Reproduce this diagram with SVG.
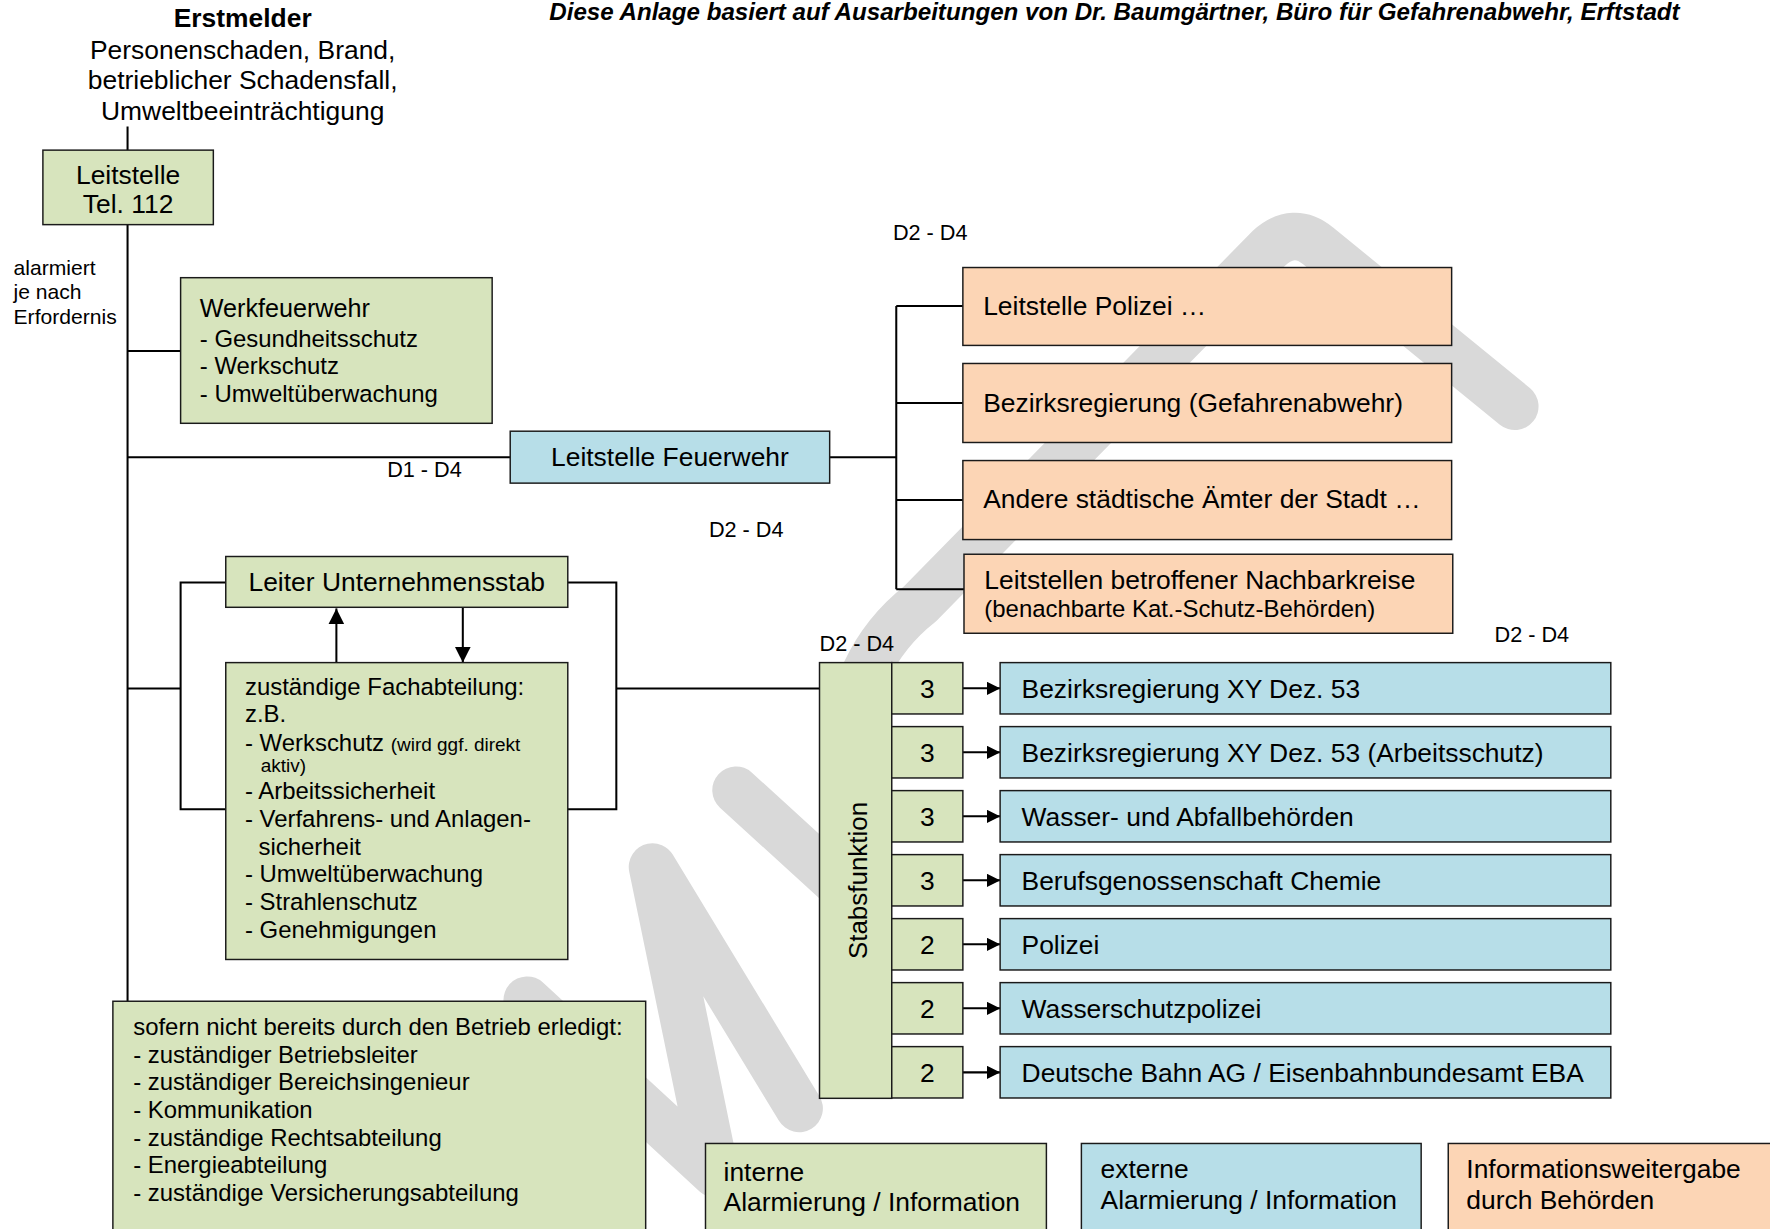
<svg xmlns="http://www.w3.org/2000/svg" width="1770" height="1229" viewBox="0 0 1770 1229">
<style>
text{font-family:"Liberation Sans",Arial,sans-serif;fill:#000}
.t{font-size:23.4px}
.m{font-size:21.2px}
.s{font-size:18.7px}
.d{font-size:19.2px}
.x{font-size:16.8px}
.b{font-weight:bold}
.c{text-anchor:middle}
.g{fill:#d7e4bd;stroke:#1a1a1a;stroke-width:1.3}
.bl{fill:#b7dee8;stroke:#1a1a1a;stroke-width:1.3}
.o{fill:#fcd5b5;stroke:#1a1a1a;stroke-width:1.3}
.ln{fill:none;stroke:#000;stroke-width:1.8}
.wm{fill:none;stroke:#d9d9d9;stroke-width:42;stroke-linecap:round;stroke-linejoin:round}
</style>
<defs>
<marker id="ah" viewBox="0 0 12 12" refX="12" refY="6" markerWidth="12" markerHeight="12" orient="auto" markerUnits="userSpaceOnUse"><path d="M0,0 L12,6 L0,12 z" fill="#000"/></marker>
<marker id="ah2" viewBox="0 0 14 14" refX="14" refY="7" markerWidth="14" markerHeight="14" orient="auto" markerUnits="userSpaceOnUse"><path d="M0,0 L14,7 L0,14 z" fill="#000"/></marker>
</defs>
<rect width="1770" height="1229" fill="#fff"/>
<g transform="scale(1.1288)">
<g id="watermark">
<path class="wm" d="M1342,360 L1168,218 Q1146,200 1124,220 L815,535 Q745,590 748,700"/>
<path class="wm" d="M652,700 L745,785"/>
<path class="wm" d="M467,886 L634,1040 L578,768 L708,982"/>
</g>
<g id="connectors">
<path class="ln" d="M113,112 V133 M113,199 V887 M113,311 H160 M113,405 H452 M113,610 H160"/>
<path class="ln" d="M735,405 H794 M794,271 V522 M794,271 H853 M794,357 H853 M794,443 H853 M794,522 H854"/>
<path class="ln" d="M200,516 H160 V717 H200 M503,516 H546 V717 H503 M546,610 H726"/>
<line class="ln" x1="298" y1="587" x2="298" y2="539" marker-end="url(#ah2)"/>
<line class="ln" x1="410" y1="538" x2="410" y2="587" marker-end="url(#ah2)"/>
<line class="ln" x1="853" y1="609.8" x2="886" y2="609.8" marker-end="url(#ah)"/>
<line class="ln" x1="853" y1="666.5" x2="886" y2="666.5" marker-end="url(#ah)"/>
<line class="ln" x1="853" y1="723.2" x2="886" y2="723.2" marker-end="url(#ah)"/>
<line class="ln" x1="853" y1="779.9" x2="886" y2="779.9" marker-end="url(#ah)"/>
<line class="ln" x1="853" y1="836.6" x2="886" y2="836.6" marker-end="url(#ah)"/>
<line class="ln" x1="853" y1="893.3" x2="886" y2="893.3" marker-end="url(#ah)"/>
<line class="ln" x1="853" y1="950" x2="886" y2="950" marker-end="url(#ah)"/>
</g>
<g id="header">
<text class="t b c" x="215" y="24">Erstmelder</text>
<text class="t c" x="215" y="52">Personenschaden, Brand,</text>
<text class="t c" x="215" y="79">betrieblicher Schadensfall,</text>
<text class="t c" x="215" y="106">Umweltbeeinträchtigung</text>
<text class="b" x="1488" y="18" font-size="21.4" font-style="italic" text-anchor="end">Diese Anlage basiert auf Ausarbeitungen von Dr. Baumgärtner, Büro für Gefahrenabwehr, Erftstadt</text>
</g>
<g id="labels">
<text class="s" x="12" y="244">alarmiert</text>
<text class="s" x="12" y="265">je nach</text>
<text class="s" x="12" y="287">Erfordernis</text>
<text class="d" x="343" y="423">D1 - D4</text>
<text class="d" x="791" y="213">D2 - D4</text>
<text class="d" x="628" y="476">D2 - D4</text>
<text class="d" x="726" y="577">D2 - D4</text>
<text class="d" x="1324" y="569">D2 - D4</text>
</g>
<g id="leitstelle112">
<rect class="g" x="38" y="133" width="151" height="66"/>
<text class="t c" x="113.5" y="163">Leitstelle</text>
<text class="t c" x="113.5" y="189">Tel. 112</text>
</g>
<g id="werkfeuerwehr">
<rect class="g" x="160" y="246" width="276" height="129"/>
<text x="177" y="281" font-size="22.3">Werkfeuerwehr</text>
<text class="m" x="177" y="307">- Gesundheitsschutz</text>
<text class="m" x="177" y="331">- Werkschutz</text>
<text class="m" x="177" y="356">- Umweltüberwachung</text>
</g>
<g id="leitstelleFeuerwehr">
<rect class="bl" x="452" y="382" width="283" height="46"/>
<text class="t c" x="593.5" y="413">Leitstelle Feuerwehr</text>
</g>
<g id="orange1"><rect class="o" x="853" y="237" width="433" height="69"/><text class="t" x="871" y="279">Leitstelle Polizei …</text></g>
<g id="orange2"><rect class="o" x="853" y="322" width="433" height="70"/><text class="t" x="871" y="365">Bezirksregierung (Gefahrenabwehr)</text></g>
<g id="orange3"><rect class="o" x="853" y="408" width="433" height="70"/><text class="t" x="871" y="450">Andere städtische Ämter der Stadt …</text></g>
<g id="orange4"><rect class="o" x="854" y="491" width="433" height="70"/><text class="t" x="872" y="522">Leitstellen betroffener Nachbarkreise</text><text class="m" x="872" y="547">(benachbarte Kat.-Schutz-Behörden)</text></g>
<g id="leiter">
<rect class="g" x="200" y="493" width="303" height="45"/>
<text class="t c" x="351.5" y="524">Leiter Unternehmensstab</text>
</g>
<g id="fachabteilung">
<rect class="g" x="200" y="587" width="303" height="263"/>
<text class="m" x="217" y="616">zuständige Fachabteilung:</text>
<text class="m" x="217" y="640">z.B.</text>
<text class="m" x="217" y="665">- Werkschutz <tspan class="x">(wird ggf. direkt</tspan></text>
<text class="x" x="231" y="684">aktiv)</text>
<text class="m" x="217" y="708">- Arbeitssicherheit</text>
<text class="m" x="217" y="733">- Verfahrens- und Anlagen-</text>
<text class="m" x="229" y="757">sicherheit</text>
<text class="m" x="217" y="781">- Umweltüberwachung</text>
<text class="m" x="217" y="806">- Strahlenschutz</text>
<text class="m" x="217" y="831">- Genehmigungen</text>
</g>
<g id="stabsfunktion">
<rect class="g" x="726" y="587" width="64" height="386"/>
<text class="c" font-size="23" transform="translate(768,780) rotate(-90)">Stabsfunktion</text>
</g>
<g id="row1"><rect class="g" x="790" y="587" width="63" height="45.5"/><text class="t c" x="821.5" y="618">3</text><rect class="bl" x="886" y="587" width="541" height="45.5"/><text class="t" x="905" y="618">Bezirksregierung XY Dez. 53</text></g>
<g id="row2"><rect class="g" x="790" y="643.7" width="63" height="45.5"/><text class="t c" x="821.5" y="674.7">3</text><rect class="bl" x="886" y="643.7" width="541" height="45.5"/><text class="t" x="905" y="674.7">Bezirksregierung XY Dez. 53 (Arbeitsschutz)</text></g>
<g id="row3"><rect class="g" x="790" y="700.4" width="63" height="45.5"/><text class="t c" x="821.5" y="731.4">3</text><rect class="bl" x="886" y="700.4" width="541" height="45.5"/><text class="t" x="905" y="731.4">Wasser- und Abfallbehörden</text></g>
<g id="row4"><rect class="g" x="790" y="757.1" width="63" height="45.5"/><text class="t c" x="821.5" y="788.1">3</text><rect class="bl" x="886" y="757.1" width="541" height="45.5"/><text class="t" x="905" y="788.1">Berufsgenossenschaft Chemie</text></g>
<g id="row5"><rect class="g" x="790" y="813.8" width="63" height="45.5"/><text class="t c" x="821.5" y="844.8">2</text><rect class="bl" x="886" y="813.8" width="541" height="45.5"/><text class="t" x="905" y="844.8">Polizei</text></g>
<g id="row6"><rect class="g" x="790" y="870.5" width="63" height="45.5"/><text class="t c" x="821.5" y="901.5">2</text><rect class="bl" x="886" y="870.5" width="541" height="45.5"/><text class="t" x="905" y="901.5">Wasserschutzpolizei</text></g>
<g id="row7"><rect class="g" x="790" y="927.2" width="63" height="45.5"/><text class="t c" x="821.5" y="958.2">2</text><rect class="bl" x="886" y="927.2" width="541" height="45.5"/><text class="t" x="905" y="958.2">Deutsche Bahn AG / Eisenbahnbundesamt EBA</text></g>
<g id="betrieb">
<rect class="g" x="100" y="887" width="472" height="205"/>
<text class="m" x="118" y="917">sofern nicht bereits durch den Betrieb erledigt:</text>
<text class="m" x="118" y="941.5">- zuständiger Betriebsleiter</text>
<text class="m" x="118" y="966">- zuständiger Bereichsingenieur</text>
<text class="m" x="118" y="990.5">- Kommunikation</text>
<text class="m" x="118" y="1015">- zuständige Rechtsabteilung</text>
<text class="m" x="118" y="1039.5">- Energieabteilung</text>
<text class="m" x="118" y="1064">- zuständige Versicherungsabteilung</text>
</g>
<g id="legendIntern"><rect class="g" x="625" y="1013" width="302" height="80"/><text class="t" x="641" y="1046">interne</text><text class="t" x="641" y="1073">Alarmierung / Information</text></g>
<g id="legendExtern"><rect class="bl" x="958" y="1013" width="301" height="80"/><text class="t" x="975" y="1044">externe</text><text class="t" x="975" y="1071">Alarmierung / Information</text></g>
<g id="legendBehoerden"><rect class="o" x="1283" y="1013" width="300" height="80"/><text class="t" x="1299" y="1044">Informationsweitergabe</text><text class="t" x="1299" y="1071">durch Behörden</text></g>
</g>
</svg>
